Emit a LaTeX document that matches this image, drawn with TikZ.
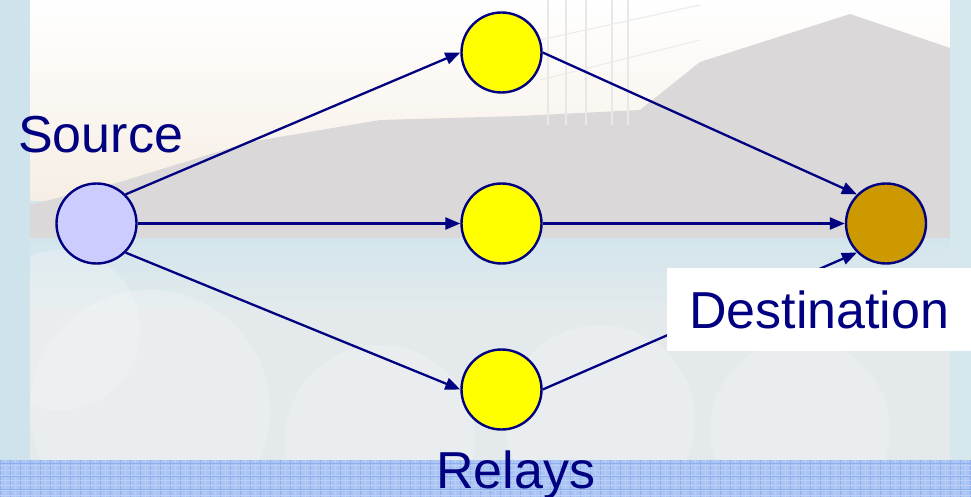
\documentclass[tikz,border=0pt]{standalone}
\usepackage{fontspec}
\setmainfont{Liberation Sans}
\usetikzlibrary{arrows.meta}
\definecolor{navy}{HTML}{000080}
\definecolor{srcfill}{HTML}{CCCCFF}
\definecolor{relayfill}{HTML}{FFFF00}
\definecolor{dstfill}{HTML}{CC9900}
\definecolor{paleblue}{HTML}{D3E5EC}
\definecolor{hillgray}{HTML}{DAD8D8}
\definecolor{bandblue}{HTML}{ABC5F3}
\definecolor{gridblue}{HTML}{8EAEF2}
\definecolor{warmsky}{HTML}{F6EEE4}
\definecolor{shore}{HTML}{E2EAEC}
\definecolor{ground}{HTML}{E4E9EB}
\definecolor{leftstrip}{HTML}{CFE3EC}
\definecolor{rightstrip}{HTML}{D6E8EE}
\tikzset{
  station/.style={circle, draw=navy, line width=2.4pt, minimum size=80pt, inner sep=0pt},
  label text/.style={text=navy, font=\fontsize{52}{60}\selectfont, inner sep=0pt},
  link/.style={draw=navy, line width=2.3pt, -{Triangle[length=15pt,width=12pt]}}
}
\begin{document}
\begin{tikzpicture}[x=1pt,y=-1pt]
\useasboundingbox (0,0) rectangle (971,497);

% --- washed-out backdrop ---
\fill[paleblue] (0,0) rectangle (971,497);
\shade[top color=white, bottom color=warmsky] (30,0) rectangle (950,200);
% hill and building silhouette
\fill[hillgray] (30,205) -- (120,182) -- (250,142) -- (380,120) -- (520,116) -- (640,110)
  -- (700,62) -- (850,14) -- (950,48) -- (950,238) -- (30,238) -- cycle;
% towers
\foreach \tx in {548,566,586,612,628}
  \draw[gray!18, line width=1.5pt] (\tx,0) -- (\tx,125);
\draw[gray!15, line width=1.2pt] (540,40) -- (700,5);
\draw[gray!15, line width=1.2pt] (540,80) -- (700,40);
% water
\shade[top color=paleblue, bottom color=shore] (30,238) rectangle (950,310);
% lower ground with pale nets
\fill[ground] (30,310) rectangle (950,460);
\foreach \cx/\cy/\r in {150/410/120, 380/440/95, 600/420/95, 800/430/90, 60/330/80}
  \fill[white, opacity=0.22] (\cx,\cy) circle (\r);
% side strips
\fill[leftstrip] (0,0) rectangle (30,460);
\fill[rightstrip] (950,0) rectangle (971,460);

% --- gridded band along the bottom ---
\fill[bandblue] (0,460) rectangle (971,497);
\foreach \gx in {0,5,...,970}
  \draw[gridblue!60, line width=0.4pt] (\gx,460) -- (\gx,497);
\foreach \gx in {0,10,...,970}
  \draw[gridblue, line width=0.9pt] (\gx,460) -- (\gx,497);
\foreach \gy in {465,470,...,495}
  \draw[gridblue!60, line width=0.4pt] (0,\gy) -- (971,\gy);
\foreach \gy in {463,476,489}
  \draw[gridblue, line width=0.9pt] (0,\gy) -- (971,\gy);

% --- stations ---
\node[station, fill=srcfill]   (src) at (96.5,223.5) {};
\node[station, fill=relayfill] (r1)  at (501.5,52.5) {};
\node[station, fill=relayfill] (r2)  at (501.5,223.5) {};
\node[station, fill=relayfill] (r3)  at (501.5,389.5) {};
\node[station, fill=dstfill]   (dst) at (886,223.5) {};

% --- links ---
\draw[link] (src.north east) -- (r1.west);
\draw[link] (src.east) -- (r2.west);
\draw[link] (src.south east) -- (r3.west);
\draw[link] (r1.east) -- (dst.north west);
\draw[link] (r2.east) -- (dst.west);
\draw[link] (r3.east) -- (dst.south west);

% --- labels ---
\node[label text, anchor=base west] (srclabel) at (18,153) {Source};
\node[label text, fill=white, anchor=north west, minimum width=304pt, minimum height=83pt]
  (dstlabel) at (667,268) {Destination};
\node[label text, anchor=base west] (relaylabel) at (436,488) {Relays};
\end{tikzpicture}
\end{document}
